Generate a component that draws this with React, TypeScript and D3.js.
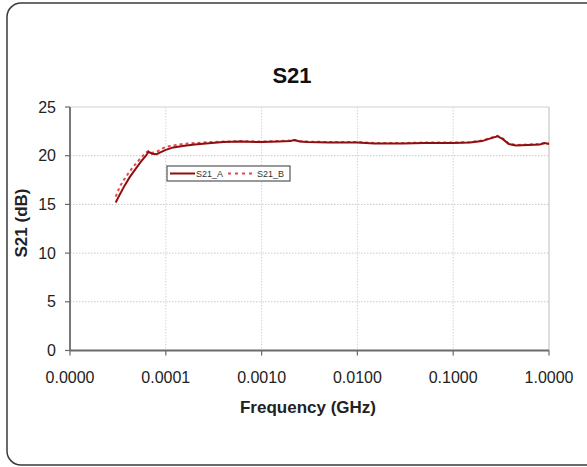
import React from "react";
import * as d3 from "d3";

const freqA = [3.0e-5, 3.3e-5, 3.7e-5, 4.2e-5, 4.8e-5, 5.5e-5, 6.2e-5, 6.6e-5, 7.2e-5, 8.0e-5, 9.0e-5, 1.0e-4, 1.2e-4, 1.5e-4, 2e-4, 3e-4, 4e-4, 6e-4, 1e-3, 1.5e-3, 2e-3, 2.2e-3, 2.5e-3, 3e-3, 5e-3, 1e-2, 1.5e-2, 3e-2, 5e-2, 0.1, 0.15, 0.2, 0.25, 0.29, 0.33, 0.38, 0.45, 0.6, 0.8, 0.9, 1.0];
const s21A = [15.2, 16.0, 16.9, 17.8, 18.6, 19.4, 20.0, 20.4, 20.2, 20.15, 20.4, 20.6, 20.85, 21.0, 21.15, 21.3, 21.4, 21.45, 21.4, 21.45, 21.5, 21.6, 21.45, 21.4, 21.35, 21.35, 21.25, 21.25, 21.3, 21.3, 21.35, 21.5, 21.8, 22.0, 21.7, 21.2, 21.05, 21.1, 21.15, 21.3, 21.2];
const s21B = [15.8, 16.8, 17.6, 18.4, 19.1, 19.8, 20.3, 20.5, 20.3, 20.4, 20.7, 20.9, 21.05, 21.2, 21.3, 21.4, 21.45, 21.5, 21.45, 21.5, 21.55, 21.6, 21.5, 21.45, 21.4, 21.4, 21.3, 21.3, 21.35, 21.35, 21.4, 21.55, 21.85, 22.05, 21.75, 21.25, 21.1, 21.15, 21.2, 21.3, 21.25];
const xTicks = [1e-5, 1e-4, 1e-3, 1e-2, 1e-1, 1];
const yTicks = [0, 5, 10, 15, 20, 25];
const seriesNames = ["S21_A", "S21_B"];

export default function App() {
  const W = 587, H = 467;
  const left = 70, right = 549, top = 107, bottom = 350.5;
  const x = d3.scaleLog().domain([1e-5, 1]).range([left, right]);
  const y = d3.scaleLinear().domain([0, 25]).range([bottom, top]);
  const fmt = d3.format(".4f");
  const line = d3.line<[number, number]>().x((d) => x(d[0])).y((d) => y(d[1]));
  const pathA = line(freqA.map((f, i) => [f, s21A[i]]) as [number, number][]) || "";
  const pathB = line(freqA.map((f, i) => [f, s21B[i]]) as [number, number][]) || "";
  const font = "Arial, 'Liberation Sans', Helvetica, sans-serif";
  const colA = "#8e0f0f";
  const colB = "#e2494a";
  const lx = 167, ly = 166;
  return (
    <svg width={W} height={H} style={{ position: "absolute", left: 0, top: 0, background: "#fff" }} fontFamily={font}>
      <rect x={7} y={3} width={600} height={462} rx={14} fill="#fff" stroke="#3a3a3a" strokeWidth={1.5} />
      <text x={292} y={83} textAnchor="middle" fontSize={22} fontWeight="bold" fill="#111">S21</text>
      {/* grid */}
      {yTicks.filter((t) => t > 0 && t < 25).map((t) => (
        <line key={"gy" + t} x1={left} x2={right} y1={y(t)} y2={y(t)} stroke="#c8c8c8" strokeWidth={1} strokeDasharray="1.5,1.5" />
      ))}
      {xTicks.filter((t) => t > 1e-5 && t < 1).map((t) => (
        <line key={"gx" + t} x1={x(t)} x2={x(t)} y1={top} y2={bottom} stroke="#d4d4d4" strokeWidth={1} strokeDasharray="1.5,1.5" />
      ))}
      <line x1={left} x2={right} y1={top} y2={top} stroke="#d0d0d0" strokeWidth={1} />
      <line x1={right} x2={right} y1={top} y2={bottom} stroke="#c8c8c8" strokeWidth={1.2} />
      {/* axes */}
      <line x1={left} x2={left} y1={top} y2={bottom} stroke="#6a6a6a" strokeWidth={1.8} />
      <line x1={left} x2={right} y1={bottom} y2={bottom} stroke="#6a6a6a" strokeWidth={1.8} />
      {yTicks.map((t) => (
        <g key={"ty" + t}>
          <line x1={left - 5} x2={left} y1={y(t)} y2={y(t)} stroke="#6a6a6a" strokeWidth={1.2} />
          <text x={56} y={y(t)} dy="0.35em" textAnchor="end" fontSize={16} fill="#222">{t}</text>
        </g>
      ))}
      {xTicks.map((t) => (
        <g key={"tx" + t}>
          <line x1={x(t)} x2={x(t)} y1={bottom} y2={bottom + 5} stroke="#6a6a6a" strokeWidth={1.2} />
          <text x={x(t)} y={383} textAnchor="middle" fontSize={16} fill="#222">{fmt(t)}</text>
        </g>
      ))}
      <text x={308} y={413} textAnchor="middle" fontSize={17} fontWeight="bold" fill="#222">Frequency (GHz)</text>
      <text transform={`translate(27,223) rotate(-90)`} textAnchor="middle" fontSize={17} fontWeight="bold" fill="#222">S21 (dB)</text>
      {/* series */}
      <path d={pathB} fill="none" stroke={colB} strokeWidth={2} strokeDasharray="3,3" />
      <path d={pathA} fill="none" stroke={colA} strokeWidth={2} />
      {/* legend */}
      <rect x={lx} y={ly} width={123} height={15} fill="#fff" stroke="#555" strokeWidth={1.2} />
      <line x1={lx + 3} x2={lx + 28} y1={ly + 7.5} y2={ly + 7.5} stroke={colA} strokeWidth={2} />
      <text x={lx + 29} y={ly + 11} fontSize={9} fill="#333">{seriesNames[0]}</text>
      <line x1={lx + 61} x2={lx + 89} y1={ly + 7.5} y2={ly + 7.5} stroke={colB} strokeWidth={2} strokeDasharray="3,4" />
      <text x={lx + 90} y={ly + 11} fontSize={9} fill="#333">{seriesNames[1]}</text>
    </svg>
  );
}
